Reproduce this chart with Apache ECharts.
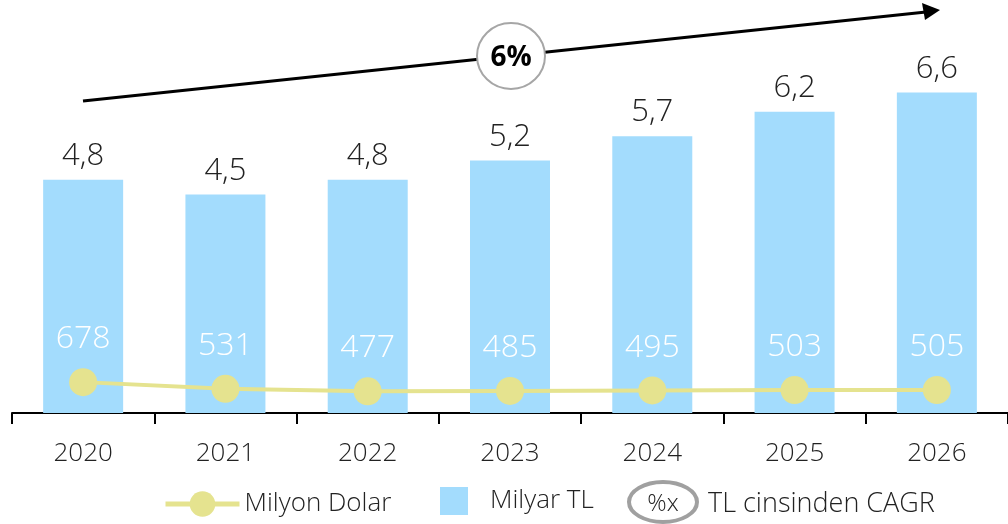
<html>
<head>
    <meta charset="utf-8" />
    <script src="https://cdn.jsdelivr.net/npm/echarts@6/dist/echarts.min.js"></script>
    <style>
        body { margin: 0; background: #fff; }
        #chart { width: 1008px; height: 524px; }
    </style>
</head>
<body>
    <div id="chart"></div>
    <script type="text/javascript">
        // veriler
        var years = ['2020', '2021', '2022', '2023', '2024', '2025', '2026'];
        var milyarTL = [4.8, 4.5, 4.8, 5.2, 5.7, 6.2, 6.6];
        var milyonDolar = [678, 531, 477, 485, 495, 503, 505];
        var cagrText = '6%';

        var font = '"Open Sans", "DejaVu Sans", sans-serif';
        var chart = echarts.init(document.getElementById('chart'));
        var option = {
            animation: false,
            textStyle: { fontFamily: font },
            grid: { left: 12, width: 998, top: 5, bottom: 111 },
            xAxis: {
                type: 'category',
                data: years,
                axisLine: { lineStyle: { color: '#000', width: 2 } },
                axisTick: { show: true, length: 11, lineStyle: { color: '#000', width: 2 } },
                axisLabel: { color: '#222', fontSize: 26, fontWeight: 300, margin: 28, fontFamily: font }
            },
            yAxis: [
                { type: 'value', min: 0, max: 8.4, show: false, splitLine: { show: false } },
                { type: 'value', min: 0, max: 8960, show: false, splitLine: { show: false } }
            ],
            legend: [{
                data: ['Milyon Dolar'],
                left: 163, top: 491, padding: 0,
                itemWidth: 74, itemHeight: 32,
                lineStyle: { width: 5 },
                textStyle: { color: '#222', fontSize: 26, fontWeight: 300, fontFamily: font, padding: [2, 0, 0, 0] }
            }, {
                data: ['Milyar TL'],
                left: 440, top: 487, padding: 0,
                icon: 'rect',
                itemWidth: 28, itemHeight: 28,
                textStyle: { color: '#222', fontSize: 26, fontWeight: 300, fontFamily: font, padding: [12, 0, 0, 17] }
            }],
            series: [{
                name: 'Milyar TL',
                type: 'bar',
                data: milyarTL,
                barWidth: 80,
                itemStyle: { color: '#a3dcfd' },
                label: {
                    show: true, position: 'top', distance: 8,
                    color: '#222', fontSize: 31, fontWeight: 300, fontFamily: font,
                    formatter: function (p) { return String(p.value).replace('.', ','); }
                },
                z: 1
            }, {
                name: 'Milyon Dolar',
                type: 'line',
                yAxisIndex: 1,
                data: milyonDolar,
                symbol: 'circle',
                symbolSize: 28,
                lineStyle: { color: '#e5e38f', width: 4 },
                itemStyle: { color: '#e5e38f' },
                label: {
                    show: true, position: 'top', distance: 13,
                    color: '#fff', fontSize: 32, fontWeight: 300, fontFamily: font
                },
                z: 3
            }],
            graphic: [
                {
                    type: 'line', z: 10,
                    shape: { x1: 83, y1: 101, x2: 926, y2: 12 },
                    style: { stroke: '#000', lineWidth: 3 }
                },
                {
                    type: 'polygon', z: 10,
                    shape: { points: [[940, 10], [922, 3], [925, 20]] },
                    style: { fill: '#000' }
                },
                {
                    type: 'ellipse', z: 11,
                    shape: { cx: 511, cy: 56, rx: 34, ry: 33 },
                    style: { fill: '#fff', stroke: '#a6a6a6', lineWidth: 2 }
                },
                {
                    type: 'text', z: 12, x: 511, y: 58,
                    style: {
                        text: cagrText, fill: '#000', fontSize: 28, fontWeight: 'bold', fontFamily: font,
                        align: 'center', verticalAlign: 'middle'
                    }
                },
                {
                    type: 'ellipse', z: 11,
                    shape: { cx: 663, cy: 502, rx: 34, ry: 20 },
                    style: { fill: '#fff', stroke: '#a0a0a0', lineWidth: 4 }
                },
                {
                    type: 'text', z: 12, x: 663, y: 504,
                    style: {
                        text: '%x', fill: '#222', fontSize: 24, fontWeight: 300, fontFamily: font,
                        align: 'center', verticalAlign: 'middle'
                    }
                },
                {
                    type: 'text', z: 12, x: 708, y: 504,
                    style: {
                        text: 'TL cinsinden CAGR', fill: '#222', fontSize: 27, fontWeight: 300, fontFamily: font,
                        align: 'left', verticalAlign: 'middle'
                    }
                }
            ]
        };
        chart.setOption(option);
    </script>
</body>
</html>
